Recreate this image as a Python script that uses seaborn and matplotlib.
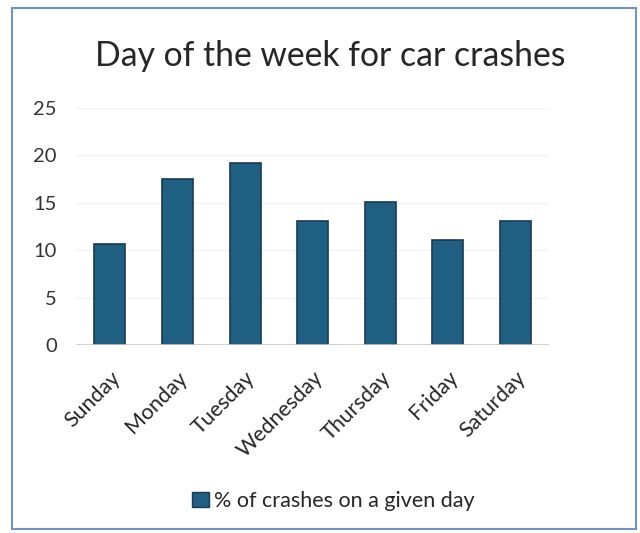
import matplotlib
matplotlib.use("Agg")
import matplotlib.pyplot as plt
import matplotlib.patches as mpatches
import seaborn as sns
import pandas as pd

days = ["Sunday", "Monday", "Tuesday", "Wednesday", "Thursday", "Friday", "Saturday"]
pct = [10.6, 17.5, 19.2, 13.1, 15.1, 11.1, 13.1]
series_name = "% of crashes on a given day"
y_ticks = [0, 5, 10, 15, 20, 25]

sns.set_theme(style="white")
plt.rcParams["font.family"] = ["Lato", "DejaVu Sans"]

df = pd.DataFrame({"day": days, "pct": pct})

fig = plt.figure(figsize=(6.4, 5.33), dpi=100)
ax = fig.add_axes([0.119, 0.3527, 0.739, 0.4453])

bar_color = "#1f5f82"
edge_color = "#1a3a55"
sns.barplot(data=df, x="day", y="pct", color=bar_color, width=0.46,
            edgecolor=edge_color, linewidth=1.2, saturation=1, ax=ax,
            label=series_name, legend=False, zorder=3)

ax.set_ylim(0, 25)
ax.set_xlim(-0.5, 6.5)
ax.set_yticks(y_ticks)
ax.set_yticklabels([str(t) for t in y_ticks], fontsize=14.5, color="#333333")
ax.set_xticks(range(len(days)))
ax.set_xticklabels(days, rotation=45, ha="right", rotation_mode="anchor",
                   fontsize=15.5, color="#262626")
ax.tick_params(axis="x", length=0, pad=16)
ax.tick_params(axis="y", length=0, pad=14)
ax.set_xlabel("")
ax.set_ylabel("")
for s in ax.spines.values():
    s.set_visible(False)
ax.yaxis.grid(True, color="#f3f3f3", linewidth=1, zorder=0)
ax.axhline(0, color="#c8c8c8", linewidth=1.2, zorder=4)

fig.text(0.516, 0.895, "Day of the week for car crashes", ha="center", va="center",
         fontsize=24.3, color="#262626")

handle = mpatches.Patch(facecolor=bar_color, edgecolor=edge_color, label=series_name)
fig.legend(handles=[handle], loc="center", bbox_to_anchor=(0.521, 0.06), frameon=False,
           fontsize=15.5, handlelength=0.75, handleheight=0.75, handletextpad=0.25,
           labelcolor="#262626")

border = mpatches.Rectangle((12 / 640, 4 / 533), 624 / 640, 521 / 533,
                            transform=fig.transFigure, fill=False,
                            edgecolor="#6f93c4", linewidth=1.5)
fig.patches.append(border)

fig.savefig("out.png", dpi=100)
